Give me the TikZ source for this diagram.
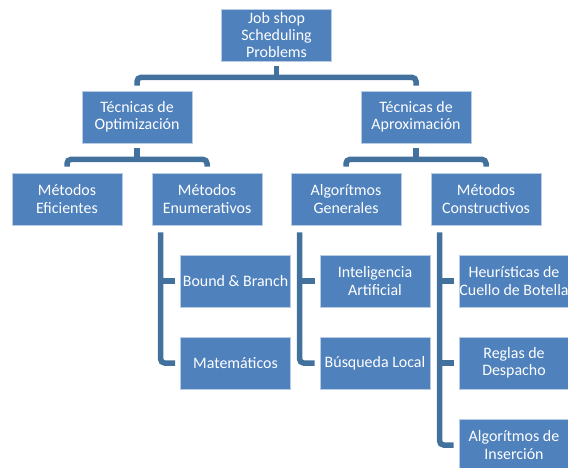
\documentclass[tikz,border=0pt]{standalone}
\usepackage{fontspec}
\setmainfont{Carlito}
\definecolor{boxblue}{HTML}{4F81BD}
\definecolor{linkblue}{HTML}{41719C}
\definecolor{edgeblue}{HTML}{B8CCE4}
\begin{document}
\begin{tikzpicture}[x=1bp,y=-1bp,
  box/.style={draw=edgeblue,line width=0.8bp,fill=boxblue,text=white,
    minimum width=110bp,minimum height=52bp,inner sep=0pt,align=center,
    font=\fontsize{16}{17.5}\selectfont},
  link/.style={draw=linkblue,line width=5.5bp,rounded corners=4bp}]
\useasboundingbox (0,0) rectangle (568,468);
\clip (0,0) rectangle (568,468);
% level 0
\node[box] (root) at (276.5,35) {Job shop\\Scheduling\\Problems};
% level 1
\node[box] (opt) at (137,117) {Técnicas de\\Optimización};
\node[box] (apr) at (416,117) {Técnicas de\\Aproximación};
% level 2
\node[box] (efi) at (67,199) {Métodos\\Eficientes};
\node[box] (enu) at (207,199) {Métodos\\Enumerativos};
\node[box] (gen) at (346,199) {Algorítmos\\Generales};
\node[box] (con) at (486,199) {Métodos\\Constructivos};
% level 3
\node[box] (bb) at (235.5,281) {Bound \& Branch};
\node[box] (mat) at (235.5,363) {Matemáticos};
\node[box] (ia) at (375,281) {Inteligencia\\Artificial};
\node[box] (bl) at (375,363) {Búsqueda Local};
\node[box] (heu) at (514,281) {Heurísticas de\\Cuello de Botella};
\node[box] (reg) at (514,363) {Reglas de\\Despacho};
\node[box] (ins) at (514,445) {Algorítmos de\\Inserción};
% connectors level 0 -> 1
\coordinate (r0) at ([yshift=-5bp]root.south);
\draw[link] (r0) -- ++(0,11) coordinate (rm);
\draw[link] ([yshift=5bp]opt.north) |- (rm) -| ([yshift=5bp]apr.north);
% level 1 -> 2
\coordinate (o0) at ([yshift=-5bp]opt.south);
\draw[link] (o0) -- ++(0,11) coordinate (om);
\draw[link] ([yshift=6bp]efi.north) |- (om) -| ([yshift=6bp]enu.north);
\coordinate (a0) at ([yshift=-5bp]apr.south);
\draw[link] (a0) -- ++(0,11) coordinate (am);
\draw[link] ([yshift=6bp]gen.north) |- (am) -| ([yshift=6bp]con.north);
% level 2 -> 3
\coordinate (e0) at ([yshift=-7bp]enu.south west);
\coordinate (ev) at ([xshift=9bp]e0);
\draw[link] (ev) |- ([xshift=-5bp]mat.west);
\draw[link,rounded corners=0pt] (ev |- bb.west) -- ([xshift=-5bp]bb.west);
\coordinate (g0) at ([yshift=-7bp]gen.south west);
\coordinate (gv) at ([xshift=9bp]g0);
\draw[link] (gv) |- ([xshift=-5bp]bl.west);
\draw[link,rounded corners=0pt] (gv |- ia.west) -- ([xshift=-5bp]ia.west);
\coordinate (c0) at ([yshift=-7bp]con.south west);
\coordinate (cv) at ([xshift=9bp]c0);
\draw[link] (cv) |- ([xshift=-5bp]ins.west);
\draw[link,rounded corners=0pt] (cv |- heu.west) -- ([xshift=-5bp]heu.west);
\draw[link,rounded corners=0pt] (cv |- reg.west) -- ([xshift=-5bp]reg.west);
\end{tikzpicture}
\end{document}
